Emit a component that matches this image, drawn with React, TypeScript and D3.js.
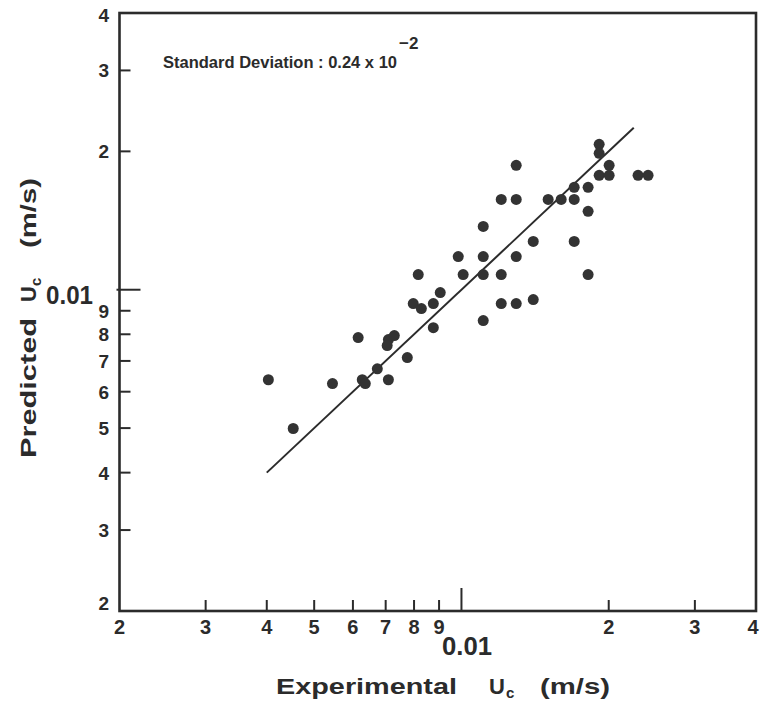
import React from "react";
import * as d3 from "d3";

// Experimental vs predicted critical velocity (m/s)
const experimental: number[] = [
  0.01294, 0.01912, 0.01912, 0.02004, 0.01912, 0.02004, 0.02296, 0.02407,
  0.017, 0.01815, 0.01206, 0.01294, 0.01504, 0.01599, 0.017, 0.01815,
  0.01108, 0.01402, 0.017, 0.00985, 0.01108, 0.01294, 0.00816, 0.01008,
  0.01108, 0.01206, 0.01815, 0.00905, 0.00797, 0.00828, 0.00876, 0.01206,
  0.01294, 0.01402, 0.01108, 0.00876, 0.00615, 0.00709, 0.00729, 0.00705,
  0.00775, 0.00403, 0.00545, 0.00627, 0.00636, 0.00709, 0.00453, 0.00673,
];
const predicted: number[] = [
  0.01865, 0.02072, 0.01981, 0.01865, 0.01774, 0.01774, 0.01774, 0.01774,
  0.0167, 0.0167, 0.01572, 0.01572, 0.01572, 0.01572, 0.01572, 0.01481,
  0.01373, 0.01274, 0.01274, 0.01181, 0.01181, 0.01181, 0.01079, 0.01079,
  0.01079, 0.01079, 0.01079, 0.00986, 0.00933, 0.0091, 0.00933, 0.00933,
  0.00933, 0.00952, 0.00857, 0.00827, 0.00787, 0.00779, 0.00795, 0.00756,
  0.00712, 0.00637, 0.00625, 0.00637, 0.00625, 0.00637, 0.00499, 0.00673,
];
// parity line (predicted = experimental)
const lineEnds: number[] = [0.004, 0.0225];

const tickValues: number[] = [
  0.002, 0.003, 0.004, 0.005, 0.006, 0.007, 0.008, 0.009, 0.01, 0.02, 0.03, 0.04,
];
const tickLabels: string[] = ["2", "3", "4", "5", "6", "7", "8", "9", "0.01", "2", "3", "4"];
const domain: number[] = [0.002, 0.04];

const INK = "#2b2b2b";
const FONT = "'Liberation Sans', Arial, sans-serif";

export default function App() {
  const L = 119.5, R = 756, T = 13, B = 611;
  const x = d3.scaleLog().domain(domain).range([L, R]);
  const y = d3.scaleLog().domain(domain).range([B, T]);
  const line = d3
    .line<number>()
    .x((d) => x(d))
    .y((d) => y(d));
  const last = tickValues.length - 1;

  return (
    <svg
      width={762}
      height={701}
      style={{ position: "fixed", left: 0, top: 0, background: "#fff" }}
    >
      <rect x={0} y={0} width={762} height={701} fill="#fff" />
      {/* frame */}
      <rect x={L} y={T} width={R - L} height={B - T} fill="none" stroke={INK} strokeWidth={2.6} />

      {/* x ticks */}
      {tickValues.map((v, i) => {
        const major = v === 0.01;
        const inner = i > 0 && i < last;
        return (
          <g key={"xt" + i}>
            {inner && (
              <line
                x1={x(v)}
                x2={x(v)}
                y1={B}
                y2={B - (major ? 23 : 11)}
                stroke={INK}
                strokeWidth={2}
              />
            )}
            {major ? (
              <text
                x={467}
                y={655}
                textAnchor="middle"
                fontFamily={FONT}
                fontWeight="bold"
                fontSize={25}
                fill={INK}
                textLength={50}
                lengthAdjust="spacingAndGlyphs"
              >
                {tickLabels[i]}
              </text>
            ) : (
              <text
                x={i === last ? 753 : x(v)}
                y={634}
                textAnchor="middle"
                fontFamily={FONT}
                fontWeight="bold"
                fontSize={20}
                fill={INK}
              >
                {tickLabels[i]}
              </text>
            )}
          </g>
        );
      })}

      {/* y ticks */}
      {tickValues.map((v, i) => {
        const major = v === 0.01;
        const inner = i > 0 && i < last;
        return (
          <g key={"yt" + i}>
            {inner && (
              <line
                x1={major ? L - 3 : L}
                x2={L + (major ? 21 : 11)}
                y1={y(v)}
                y2={y(v)}
                stroke={INK}
                strokeWidth={2}
              />
            )}
            {major ? (
              <text
                x={93}
                y={y(v) + 14}
                textAnchor="end"
                fontFamily={FONT}
                fontWeight="bold"
                fontSize={26}
                fill={INK}
                textLength={47}
                lengthAdjust="spacingAndGlyphs"
              >
                {tickLabels[i]}
              </text>
            ) : (
              <text
                x={109}
                y={y(v) + (i === 0 ? -1 : i === last ? 9 : 7)}
                textAnchor="end"
                fontFamily={FONT}
                fontWeight="bold"
                fontSize={19}
                fill={INK}
              >
                {tickLabels[i]}
              </text>
            )}
          </g>
        );
      })}

      {/* parity line */}
      <path d={line(lineEnds) || ""} stroke={INK} strokeWidth={2} fill="none" />

      {/* points */}
      {experimental.map((e, i) => (
        <circle key={"p" + i} cx={x(e)} cy={y(predicted[i])} r={5.5} fill="#333" />
      ))}

      {/* annotation */}
      <text
        x={163}
        y={68}
        fontFamily={FONT}
        fontWeight="bold"
        fontSize={17}
        fill={INK}
        textLength={234}
        lengthAdjust="spacingAndGlyphs"
      >
        Standard Deviation : 0.24 x 10
      </text>
      <text x={399} y={49} fontFamily={FONT} fontWeight="bold" fontSize={17} fill={INK}>
        −2
      </text>

      {/* x axis title */}
      <g fontFamily={FONT} fontWeight="bold" fill={INK}>
        <text x={276} y={694} fontSize={22} textLength={181} lengthAdjust="spacingAndGlyphs">
          Experimental
        </text>
        <text x={489} y={694} fontSize={22}>U</text>
        <text x={506} y={698} fontSize={15}>c</text>
        <text x={540} y={694} fontSize={22} textLength={70} lengthAdjust="spacingAndGlyphs">
          (m/s)
        </text>
      </g>

      {/* y axis title */}
      <g fontFamily={FONT} fontWeight="bold" fill={INK} transform="translate(36,0) rotate(-90)">
        <text x={-458} y={0} fontSize={22} textLength={140} lengthAdjust="spacingAndGlyphs">
          Predicted
        </text>
        <text x={-302} y={0} fontSize={22}>U</text>
        <text x={-286} y={5} fontSize={15}>c</text>
        <text x={-248} y={0} fontSize={22} textLength={70} lengthAdjust="spacingAndGlyphs">
          (m/s)
        </text>
      </g>
    </svg>
  );
}
